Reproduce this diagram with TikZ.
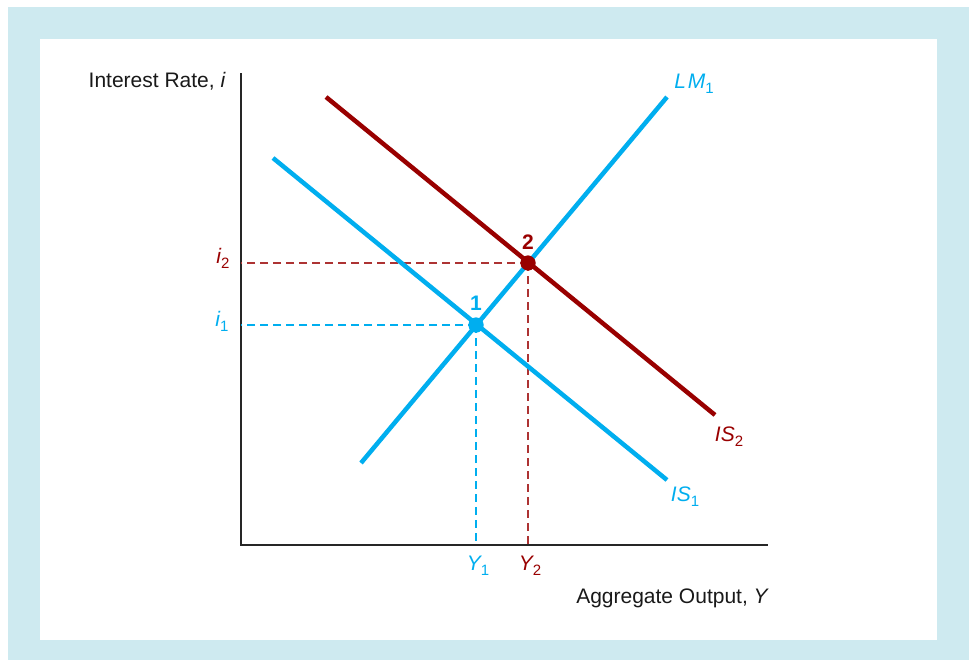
\documentclass[tikz,border=0pt]{standalone}
\usepackage{fontspec}
\setmainfont{Liberation Sans}
\definecolor{bgblue}{HTML}{CEEAF0}
\definecolor{cyanline}{HTML}{00AEEF}
\definecolor{darkred}{HTML}{990000}
\newcommand\mysub[1]{\raisebox{-0.45ex}{\upshape\fontsize{15}{15}\selectfont #1}}
\tikzset{
  lab/.style={font=\fontsize{21}{24}\selectfont, inner sep=0pt},
  curve/.style={line width=4.5pt},
  guide/.style={line width=1.5pt, dash pattern=on 8pt off 5pt},
  eqdot/.style={circle, fill, inner sep=0pt, minimum size=15pt}
}
\begin{document}
\begin{tikzpicture}[x=1pt,y=-1pt]
\useasboundingbox (0,0) rectangle (974,661);
\fill[white] (0,0) rectangle (974,661);
\fill[bgblue] (8,7) rectangle (969,660);
\fill[white] (40,39) rectangle (937,640);

% axes
\coordinate (ytop) at (241,73);
\coordinate (orig) at (241,545);
\coordinate (xend) at (768,545);
\draw[line width=1.6pt, black!85] (ytop) -- (orig) -- (xend);

% curve endpoints
\coordinate (lma) at (361,463);
\coordinate (lmb) at (667,97);
\coordinate (isa) at (273,158);
\coordinate (isb) at (667,480);
\coordinate (iza) at (326,97);
\coordinate (izb) at (715,415);
\coordinate (i1ax) at (241,325);
\coordinate (i2ax) at (241,263);
\coordinate (y1ax) at (476,545);
\coordinate (y2ax) at (528,545);

\node[eqdot, cyanline] (p1) at (476,325) {};
\node[eqdot, darkred] (p2) at (528,263) {};

% guides
\draw[guide, cyanline] (p1.center) -- (i1ax);
\draw[guide, cyanline] (p1.center) -- (y1ax);
\draw[guide, darkred!80] (p2.center) -- (i2ax);
\draw[guide, darkred!80] (p2.center) -- (y2ax);

% curves
\draw[curve, cyanline] (isa) -- (isb);
\draw[curve, darkred] (iza) -- (izb);
\draw[curve, cyanline] (lma) -- (lmb);
\node[eqdot, cyanline] at (p1) {};
\node[eqdot, darkred] at (p2) {};

% labels
\node[lab, cyanline, font=\fontsize{21}{24}\selectfont\bfseries] (l1) at (476,303) {1};
\node[lab, darkred, font=\fontsize{21}{24}\selectfont\bfseries] (l2) at (528,242) {2};
\node[lab, cyanline] (lm) at (694,84) {\itshape L\kern2pt M\mysub{1}};
\node[lab, cyanline] (is1) at (685,497) {\itshape IS\mysub{1}};
\node[lab, darkred] (is2) at (729,437) {\itshape IS\mysub{2}};
\node[lab, darkred] (i2l) at (223,258) {\itshape i\mysub{2}};
\node[lab, cyanline] (i1l) at (222,321) {\itshape i\mysub{1}};
\node[lab, cyanline] (y1l) at (478,566) {\itshape Y\mysub{1}};
\node[lab, darkred] (y2l) at (530,566) {\itshape Y\mysub{2}};
\node[lab, black!90] (ylab) at (157,81) {Interest Rate, \itshape i};
\node[lab, black!90] (xlab) at (672,598) {Aggregate Output, \itshape Y};
\end{tikzpicture}
\end{document}
